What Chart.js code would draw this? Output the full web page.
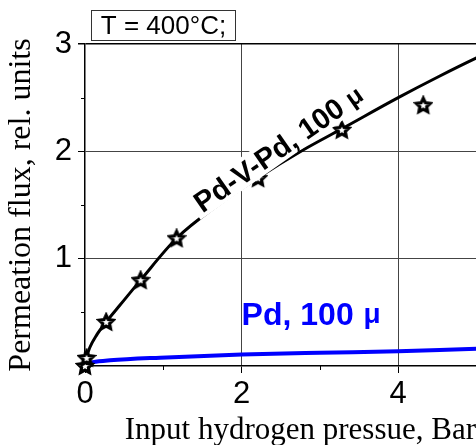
<!DOCTYPE html>
<html><head><meta charset="utf-8">
<script src="https://cdn.jsdelivr.net/npm/chart.js@4"></script>
<style>html,body{margin:0;padding:0;overflow:hidden;background:#fff;width:476px;height:445px}canvas{display:block}</style>
</head><body>
<canvas id="c" width="530" height="455"></canvas>
<script>
// Measured data (Pd-V-Pd membrane, stars)
const pressureStars = [0, 0.02, 0.27, 0.71, 1.17, 2.21, 3.28, 4.32];
const fluxStars     = [0, 0.075, 0.41, 0.80, 1.19, 1.75, 2.20, 2.43];
// Fitted curve for Pd-V-Pd (black line)
const fitPressure = [0, 0.02, 0.06, 0.15, 0.27, 0.45, 0.71, 1.17, 1.7, 2.2, 2.78, 3.28, 4.0, 4.5, 5.0, 5.3];
const fitFlux     = [0, 0.08, 0.17, 0.29, 0.41, 0.57, 0.80, 1.19, 1.50, 1.75, 2.01, 2.21, 2.50, 2.69, 2.87, 2.97];
// Pd membrane curve (blue line)
const pdPressure = [0, 0.1, 0.32, 0.96, 2, 3, 4, 5, 5.3];
const pdFlux     = [0.015, 0.035, 0.053, 0.078, 0.106, 0.123, 0.137, 0.16, 0.165];
// Axis labels
const xLabelValues = [0, 2, 4];
const yLabelValues = [1, 2, 3];
const xTitle = 'Input hydrogen pressue, Bar';
const yTitle = 'Permeation flux, rel. units';
const labelPdVPd = 'Pd-V-Pd, 100 ';
const labelPd = 'Pd, 100';
const muSign = 'μ';
const boxText = 'T = 400°C;';

const SANS = '"Liberation Sans", Arial, sans-serif';
const SERIF = '"Liberation Serif", "Times New Roman", serif';

function makeStar() {
  const c = document.createElement('canvas');
  c.width = 20; c.height = 20;
  const g = c.getContext('2d');
  g.beginPath();
  for (let i = 0; i < 10; i++) {
    const r = i % 2 === 0 ? 7.4 : 3.6;
    const a = -Math.PI / 2 + i * Math.PI / 5;
    const px = 10 + r * Math.cos(a), py = 10.5 + r * Math.sin(a);
    if (i === 0) g.moveTo(px, py); else g.lineTo(px, py);
  }
  g.closePath();
  g.fillStyle = '#fff'; g.fill();
  g.lineWidth = 3.2; g.lineJoin = 'miter'; g.strokeStyle = '#000'; g.stroke();
  return c;
}
const star = makeStar();

const toXY = (xs, ys) => xs.map((v, i) => ({x: v, y: ys[i]}));

const minorTicks = {
  id: 'minorTicks',
  afterDraw(chart) {
    const {ctx, scales: {x, y}, chartArea: a} = chart;
    ctx.save();
    ctx.strokeStyle = '#000'; ctx.lineWidth = 1;
    [1, 3, 5].forEach(v => {
      const px = Math.round(x.getPixelForValue(v)) + 0.5;
      ctx.beginPath(); ctx.moveTo(px, a.bottom); ctx.lineTo(px, a.bottom + 4); ctx.stroke();
    });
    [0.5, 1.5, 2.5].forEach(v => {
      const py = Math.round(y.getPixelForValue(v)) + 0.5;
      ctx.beginPath(); ctx.moveTo(a.left - 4, py); ctx.lineTo(a.left, py); ctx.stroke();
    });
    // T box
    const bx = a.left + 6.5, by = a.top - 33.5, bw = 144, bh = 30;
    ctx.fillStyle = '#fff';
    ctx.fillRect(bx, by, bw, bh);
    ctx.strokeStyle = '#333'; ctx.lineWidth = 1;
    ctx.strokeRect(bx, by, bw, bh);
    ctx.fillStyle = '#000';
    ctx.font = '26px ' + SANS;
    ctx.textAlign = 'center'; ctx.textBaseline = 'middle';
    ctx.fillText(boxText, bx + bw / 2, by + bh / 2 + 1);
    ctx.restore();
  }
};

const curveLabels = {
  id: 'curveLabels',
  afterDatasetsDraw(chart) {
    const {ctx, scales: {x, y}} = chart;
    ctx.save();
    // Pd-V-Pd label, rotated, with white background
    ctx.translate(x.getPixelForValue(1.50), y.getPixelForValue(1.42));
    ctx.rotate(-35 * Math.PI / 180);
    ctx.font = 'bold 29px ' + SANS;
    const w1 = ctx.measureText(labelPdVPd).width;
    ctx.font = 'bold 25px ' + SANS;
    const w2 = ctx.measureText(muSign).width;
    ctx.fillStyle = '#fff';
    ctx.fillRect(-5, -24, w1 + w2 + 8, 28);
    ctx.fillStyle = '#000';
    ctx.textAlign = 'left'; ctx.textBaseline = 'alphabetic';
    ctx.font = 'bold 29px ' + SANS;
    ctx.fillText(labelPdVPd, 0, 0);
    ctx.font = 'bold 25px ' + SANS;
    ctx.fillText(muSign, w1, -1);
    ctx.restore();

    ctx.save();
    ctx.fillStyle = '#0000ff';
    ctx.textAlign = 'left'; ctx.textBaseline = 'alphabetic';
    const lx = x.getPixelForValue(2.0), ly = y.getPixelForValue(0.38);
    ctx.font = 'bold 32px ' + SANS;
    const wp = ctx.measureText(labelPd + ' ').width;
    ctx.fillText(labelPd, lx, ly);
    ctx.font = 'bold 28px ' + SANS;
    ctx.fillText(muSign, lx + wp + 1, ly - 2);
    ctx.restore();
  }
};

new Chart(document.getElementById('c'), {
  type: 'scatter',
  data: {
    datasets: [
      {
        data: toXY(pressureStars, fluxStars),
        pointStyle: star, pointRadius: 8, showLine: false, clip: false
      },
      {
        data: toXY(fitPressure, fitFlux),
        showLine: true, borderColor: '#000', borderWidth: 3, pointRadius: 0,
        cubicInterpolationMode: 'monotone'
      },
      {
        data: toXY(pdPressure, pdFlux),
        showLine: true, borderColor: '#0000ff', borderWidth: 4, pointRadius: 0,
        cubicInterpolationMode: 'monotone', clip: false
      }
    ]
  },
  options: {
    responsive: false,
    animation: false,
    events: [],
    layout: {padding: {top: 44, right: 14.3, bottom: 0, left: 0}},
    plugins: {legend: {display: false}, tooltip: {enabled: false}},
    scales: {
      x: {
        type: 'linear', min: 0, max: 5.5,
        afterFit: s => { s.height = 89; },
        ticks: {
          stepSize: 1, autoSkip: false, maxRotation: 0, padding: 3,
          color: '#000', font: {size: 31, family: SANS},
          callback: v => xLabelValues.includes(v) ? String(v) : ''
        },
        grid: {
          color: c => (c.tick && xLabelValues.includes(c.tick.value) && c.tick.value > 0) ? '#444' : 'rgba(0,0,0,0)',
          lineWidth: 1,
          tickColor: c => (c.tick && xLabelValues.includes(c.tick.value)) ? '#000' : 'rgba(0,0,0,0)',
          tickLength: 7
        },
        border: {color: '#000', width: 1.5},
        title: {display: true, text: xTitle, color: '#000', font: {size: 31, family: SERIF}, padding: {top: 0, bottom: 6}}
      },
      y: {
        type: 'linear', min: 0, max: 3,
        afterFit: s => { s.width = 85; },
        ticks: {
          stepSize: 0.5, autoSkip: false, padding: 6,
          color: '#000', font: {size: 31, family: SANS},
          callback: v => yLabelValues.includes(v) ? String(v) : ''
        },
        grid: {
          color: c => (c.tick && yLabelValues.includes(c.tick.value)) ? (c.tick.value === 3 ? '#000' : '#444') : 'rgba(0,0,0,0)',
          lineWidth: c => (c.tick && c.tick.value === 3) ? 1.5 : 1,
          tickColor: c => (c.tick && yLabelValues.includes(c.tick.value)) ? '#000' : 'rgba(0,0,0,0)',
          tickLength: 7
        },
        border: {color: '#000', width: 1.5},
        title: {display: true, text: yTitle, color: '#000', font: {size: 32, family: SERIF}, padding: {top: 2, bottom: 0}}
      }
    }
  },
  plugins: [curveLabels, minorTicks]
});
</script>
</body></html>
